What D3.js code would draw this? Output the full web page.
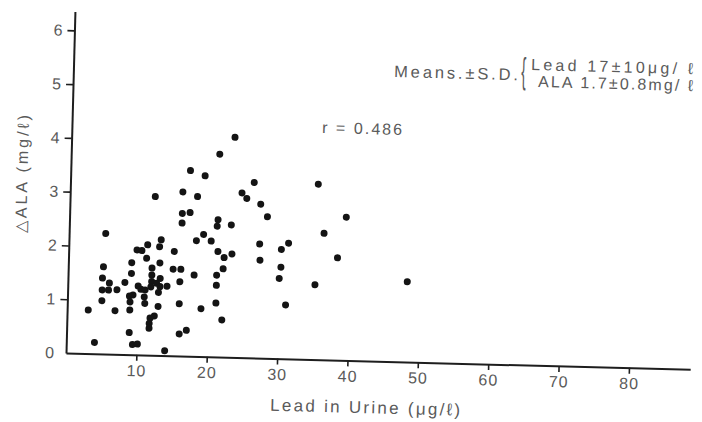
<!DOCTYPE html>
<html>
<head>
<meta charset="utf-8">
<script src="https://cdn.jsdelivr.net/npm/d3@7"></script>
<style>
body { margin: 0; background: #fff; }
svg text { font-family: "Liberation Sans", Arial, sans-serif; fill: #5a5a5a; }
</style>
</head>
<body>
<svg></svg>
<script>
// lead in urine (ug/l) and delta-ALA (mg/l)
let leadUrine = [3.0, 4.0, 5.2, 5.0, 4.9, 4.9, 4.9, 5.9, 5.8, 7.0,
    6.8, 8.1, 9.0, 9.0, 8.8, 8.9, 8.9, 8.9, 9.3, 9.4,
    10.1, 9.7, 10.4, 10.0, 10.4, 11.0, 10.9, 11.0, 11.1, 11.2,
    12.1, 11.9, 11.9, 11.9, 11.8, 12.4, 11.8, 11.7, 11.7, 12.9,
    13.1, 13.0, 13.1, 12.6, 13.1, 12.9, 12.9, 14.0, 14.1, 15.0,
    14.9, 16.0, 15.9, 15.9, 16.0, 17.0, 17.0, 16.0, 16.0, 16.0,
    17.1, 17.9, 18.1, 18.1, 19.0, 19.1, 19.1, 20.2, 21.1, 21.0,
    21.2, 22.1, 21.1, 21.1, 21.1, 22.0, 22.0, 23.0, 23.2, 24.4,
    25.1, 23.2, 21.1, 26.1, 35.2, 27.1, 28.1, 39.3, 36.2, 27.1,
    27.2, 30.2, 31.2, 38.2, 30.2, 30.0, 35.1, 31.0, 48.2]
let deltaAla = [0.81, 0.21, 2.24, 1.62, 1.41, 1.19, 0.99, 1.32, 1.19, 1.20,
    0.81, 1.34, 1.71, 1.51, 1.09, 0.98, 0.83, 0.41, 1.11, 0.19,
    0.20, 1.95, 1.94, 1.28, 1.22, 1.21, 1.08, 0.96, 1.80, 2.05,
    2.95, 1.62, 1.49, 1.37, 1.27, 0.73, 0.69, 0.59, 0.50, 2.02,
    2.15, 1.72, 1.43, 1.34, 1.28, 1.17, 0.91, 0.09, 1.29, 1.94,
    1.61, 1.61, 1.38, 0.97, 0.41, 0.48, 3.45, 3.05, 2.65, 2.47,
    2.67, 1.51, 2.15, 2.97, 0.89, 3.36, 2.27, 2.15, 2.55, 2.43,
    1.96, 1.85, 1.52, 1.33, 1.00, 0.69, 1.64, 2.46, 1.92, 3.06,
    2.96, 4.09, 3.77, 3.26, 3.26, 2.86, 2.63, 2.66, 2.35, 2.12,
    1.82, 2.03, 2.15, 1.90, 1.70, 1.49, 1.39, 1.00, 1.49]
let xTicks = [10, 20, 30, 40, 50, 60, 70, 80]
let yTicks = [0, 1, 2, 3, 4, 5, 6]
let xTitle = 'Lead in Urine (μg/ℓ)'
let yTitle = '△ALA (mg/ℓ)'
let rText = 'r = 0.486'
let meansText = 'Means.±S.D.'
let leadText = 'Lead  17±10μg/ ℓ'
let alaText = 'ALA  1.7±0.8mg/ ℓ'

let width = 702
let height = 422
let ox = 66, oy = 353
let tilt = 1.5 // the scanned page is slightly rotated
let svg = d3.select('svg').attr('width', width).attr('height', height)

let rad = tilt * Math.PI / 180
// screen position -> position inside the rotated plot group
let toLocal = (px, py) => {
    let dx = px - ox, dy = py - oy
    return [dx * Math.cos(rad) + dy * Math.sin(rad), -dx * Math.sin(rad) + dy * Math.cos(rad)]
}

let xScale = d3.scaleLinear().domain([0, 88.7]).range([0, 624.4])
let yScale = d3.scaleLinear().domain([0, 6.35]).range([0, -341.6])

let plot = svg.append('g')
    .attr('transform', 'translate(' + ox + ',' + oy + ') rotate(' + tilt + ')')

let xAxis = d3.axisBottom(xScale).tickValues(xTicks).tickFormat(d3.format('d'))
    .tickSize(6).tickSizeOuter(0).tickPadding(4)
let yAxis = d3.axisLeft(yScale).tickValues(yTicks).tickFormat(d3.format('d'))
    .tickSize(7).tickSizeOuter(0).tickPadding(4)

let gx = plot.append('g').call(xAxis)
let gy = plot.append('g').call(yAxis)
for (let g of [gx, gy]) {
    g.attr('font-size', 16).attr('font-family', null)
    g.select('.domain').attr('stroke', '#1e1e1e').attr('stroke-width', 2)
    g.selectAll('.tick line').attr('stroke', '#1e1e1e').attr('stroke-width', 1.6)
    g.selectAll('.tick text').attr('fill', '#5a5a5a').attr('letter-spacing', 1)
}
gy.selectAll('.tick').filter(d => d === 0).select('line').remove()

plot.selectAll('circle')
    .data(leadUrine)
    .enter()
    .append('circle')
    .attr('cx', d => xScale(d))
    .attr('cy', (d, i) => yScale(deltaAla[i]))
    .attr('r', 3.5)
    .attr('fill', '#141414')

let p = toLocal(270, 410.7)
plot.append('text').attr('x', p[0]).attr('y', p[1])
    .attr('font-size', 17).attr('textLength', 190).attr('lengthAdjust', 'spacing')
    .text(xTitle)

p = toLocal(22, 174)
plot.append('text')
    .attr('transform', 'translate(' + p[0] + ',' + p[1] + ') rotate(-90)')
    .attr('text-anchor', 'middle').attr('dy', '0.35em')
    .attr('font-size', 16).attr('textLength', 118).attr('lengthAdjust', 'spacing')
    .text(yTitle)

p = toLocal(322, 133)
plot.append('text').attr('x', p[0]).attr('y', p[1])
    .attr('font-size', 16).attr('textLength', 80).attr('lengthAdjust', 'spacing')
    .text(rText)

p = toLocal(394, 77)
plot.append('text').attr('x', p[0]).attr('y', p[1])
    .attr('font-size', 16.5).attr('textLength', 124).attr('lengthAdjust', 'spacing')
    .text(meansText)

p = toLocal(521, 83)
plot.append('text')
    .attr('transform', 'translate(' + p[0] + ',' + p[1] + ') scale(0.4,1)')
    .attr('font-size', 36).attr('font-weight', 300)
    .text('{')

p = toLocal(531, 70)
plot.append('text').attr('x', p[0]).attr('y', p[1])
    .attr('font-size', 16).attr('textLength', 162).attr('lengthAdjust', 'spacing')
    .text(leadText)

p = toLocal(538, 87)
plot.append('text').attr('x', p[0]).attr('y', p[1])
    .attr('font-size', 16).attr('textLength', 155).attr('lengthAdjust', 'spacing')
    .text(alaText)
</script>
</body>
</html>
